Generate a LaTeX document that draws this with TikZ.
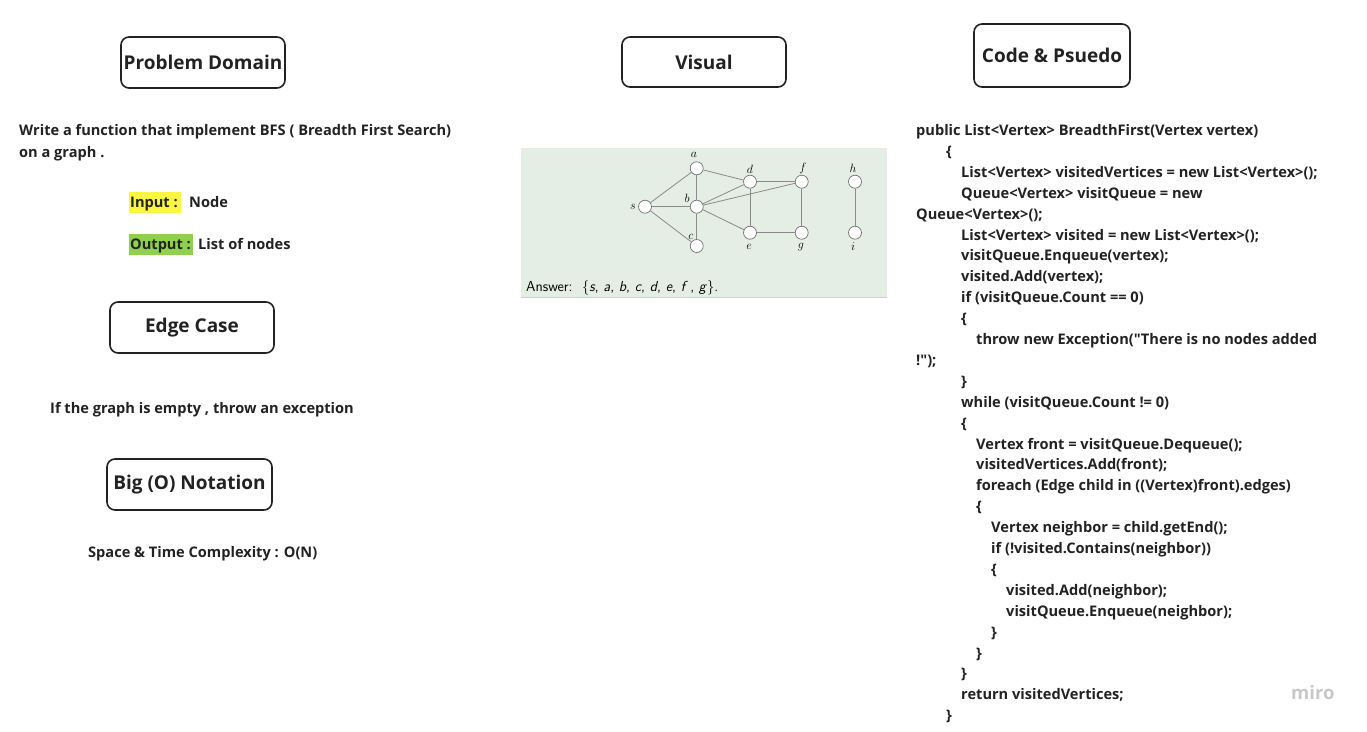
\documentclass[tikz,border=0pt]{standalone}
\usepackage{fontspec}
\setmainfont{Open Sans}[Ligatures=TeXOff]
\definecolor{txt}{HTML}{222222}
\definecolor{hlyellow}{HTML}{FBF63F}
\definecolor{hlgreen}{HTML}{8FD14F}
\definecolor{imgbg}{HTML}{E4EEE4}
\definecolor{edgegray}{HTML}{8A8A8A}
\definecolor{mirogray}{HTML}{C8C8C8}
\tikzset{
  titlebox/.style={draw=txt, rounded corners=8pt, line width=1.6pt, text=txt,
    font=\bfseries\fontsize{19}{22}\selectfont, inner sep=0pt, align=center},
  plain/.style={anchor=base west, inner sep=0pt, text=txt, font=\bfseries\fontsize{14.6}{17}\selectfont},
  codeline/.style={anchor=base west, inner sep=0pt, text=txt, font=\bfseries\fontsize{14.6}{17}\selectfont},
  vtx/.style={circle, draw=black!55, fill=white, line width=0.7pt, minimum size=13pt, inner sep=0pt},
  gedge/.style={draw=edgegray, line width=0.8pt},
  vlabel/.style={inner sep=0pt, font=\fontsize{12}{13}\selectfont}
}
\begin{document}
\begin{tikzpicture}[x=1pt,y=-1pt]
\useasboundingbox (0,0) rectangle (1367,731);
\fill[white] (0,0) rectangle (1367,731);

% title boxes
\node[titlebox, minimum width=164pt, minimum height=51pt] (pd) at (203,62.5) {Problem Domain};
\node[titlebox, minimum width=164pt, minimum height=50pt] (vis) at (704,62) {Visual};
\node[titlebox, minimum width=156pt, minimum height=63pt] (cp) at (1052,55.5) {Code \& Psuedo};
\node[titlebox, minimum width=164pt, minimum height=51pt] (ec) at (192,327.5) {Edge Case};
\node[titlebox, minimum width=165pt, minimum height=51pt] (bo) at (189.5,484.5) {Big (O) Notation};

% problem domain text
\node[plain] (w1) at (19,135.5) {Write a function that implement BFS ( Breadth First Search)};
\node[plain] (w2) at (19,157.5) {on a graph .};
\fill[hlyellow] (129,192) rectangle (181,213);
\node[plain] (inl) at (130,207.5) {Input :};
\node[plain] (inv) at (189,207.5) {Node};
\fill[hlgreen] (129,234) rectangle (193,255);
\node[plain] (outl) at (130,249.5) {Output :};
\node[plain] (outv) at (198,249.5) {List of nodes};

\node[plain] (edt) at (50,413.5) {If the graph is empty , throw an exception};
\node[plain] (cx) at (88,557.5) {Space \& Time Complexity : O(N)};

% visual image
\fill[imgbg] (521,148) rectangle (887,298);
\draw[black!18, line width=1pt] (521,297.5) -- (887,297.5);
\node[vtx] (a) at (696.7,168.3) {};
\node[vtx] (d) at (750,181.7) {};
\node[vtx] (f) at (801.7,181.7) {};
\node[vtx] (h) at (855,181.7) {};
\node[vtx] (s) at (645,206.7) {};
\node[vtx] (b) at (696.7,206.7) {};
\node[vtx] (e) at (750,232.7) {};
\node[vtx] (g) at (801.7,232.7) {};
\node[vtx] (i) at (855,232.7) {};
\node[vtx] (c) at (696.7,246) {};
\draw[gedge] (s) -- (a);
\draw[gedge] (s) -- (b);
\draw[gedge] (s) -- (c);
\draw[gedge] (a) -- (b);
\draw[gedge] (a) -- (d);
\draw[gedge] (b) -- (c);
\draw[gedge] (b) -- (d);
\draw[gedge] (b) -- (f);
\draw[gedge] (b) -- (e);
\draw[gedge] (d) -- (f);
\draw[gedge] (d) -- (e);
\draw[gedge] (f) -- (g);
\draw[gedge] (e) -- (g);
\draw[gedge] (h) -- (i);
\node[vlabel] (la) at (694,155) {$a$};
\node[vlabel] (ld) at (750,169) {$d$};
\node[vlabel] (lf) at (803,168.5) {$f$};
\node[vlabel] (lh) at (853,168) {$h$};
\node[vlabel] (ls) at (633,207) {$s$};
\node[vlabel] (lb) at (687,198) {$b$};
\node[vlabel] (lc) at (691,237) {$c$};
\node[vlabel] (le) at (749,246.5) {$e$};
\node[vlabel] (lg) at (801,247) {$g$};
\node[vlabel] (li) at (853,247) {$i$};
\node[anchor=base west, inner sep=0pt, font=\sffamily\fontsize{14.5}{16}\selectfont] (ans) at (526,291)
  {Answer:\ \ \{\textit{s}, \textit{a}, \textit{b}, \textit{c}, \textit{d}, \textit{e}, \textit{f}\,, \textit{g}\}.};

% code
\foreach \x/\t [count=\k] in {
  916/{public List<Vertex> BreadthFirst(Vertex vertex)},
  946/{\{},
  961/{List<Vertex> visitedVertices = new List<Vertex>();},
  961/{Queue<Vertex> visitQueue = new},
  916/{Queue<Vertex>();},
  961/{List<Vertex> visited = new List<Vertex>();},
  961/{visitQueue.Enqueue(vertex);},
  961/{visited.Add(vertex);},
  961/{if (visitQueue.Count == 0)},
  961/{\{},
  976/{throw new Exception("There is no nodes added},
  916/{!");},
  961/{\}},
  961/{while (visitQueue.Count != 0)},
  961/{\{},
  976/{Vertex front = visitQueue.Dequeue();},
  976/{visitedVertices.Add(front);},
  976/{foreach (Edge child in ((Vertex)front).edges)},
  976/{\{},
  991/{Vertex neighbor = child.getEnd();},
  991/{if (!visited.Contains(neighbor))},
  991/{\{},
  1006/{visited.Add(neighbor);},
  1006/{visitQueue.Enqueue(neighbor);},
  991/{\}},
  976/{\}},
  961/{\}},
  961/{return visitedVertices;},
  946/{\}}}
  \node[codeline] (code\k) at (\x, {114.6+20.9*\k}) {\t};

% miro mark
\node[anchor=base west, inner sep=0pt, text=mirogray, font=\bfseries\fontsize{18.5}{20}\selectfont] (miro) at (1291,699) {miro};
\end{tikzpicture}
\end{document}
